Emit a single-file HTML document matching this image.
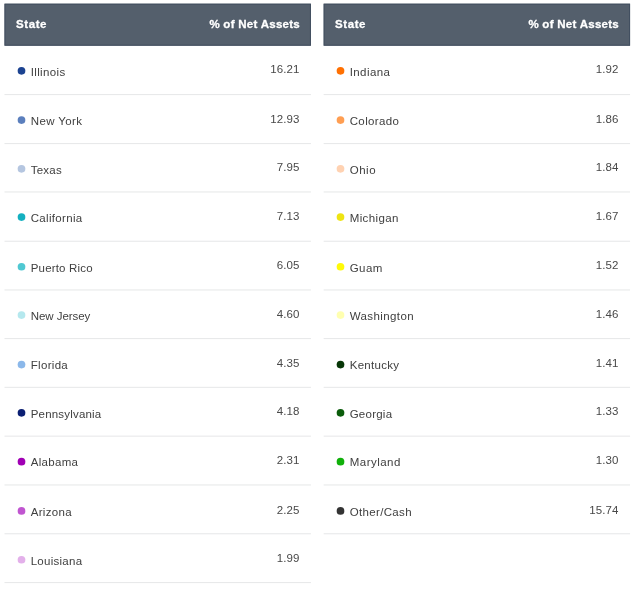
<!DOCTYPE html>
<html lang="en"><head><meta charset="utf-8"><title>State allocation</title>
<style>
html,body{margin:0;padding:0;background:#fff;}
body{width:640px;height:592px;overflow:hidden;position:relative;font-family:"Liberation Sans",sans-serif;}
svg.bg{position:absolute;left:0;top:0;}
.tbl{position:absolute;top:0;height:592px;}
.th,.n,.v{position:absolute;white-space:nowrap;line-height:14px;height:14px;}
.th{color:#fff;font-weight:bold;font-size:11.5px;-webkit-text-stroke:0.3px #fff;}
.n{color:#404040;font-size:11.5px;left:26.2px;}
.v{color:#484848;font-size:11.5px;right:11.25px;letter-spacing:0.15px;}
</style></head><body>
<svg class="bg" width="640" height="592" viewBox="0 0 640 592">
<rect x="4.5" y="3.7" width="306.42" height="42.0" fill="#545f6c"/>
<rect x="5.00" y="4.20" width="305.42" height="41.00" fill="none" stroke="#424f60" stroke-width="1"/>
<rect x="4.5" y="94.00" width="306.42" height="1.1" fill="#e8e9ea"/><circle cx="21.50" cy="70.83" r="3.85" fill="#1c4391"/>
<rect x="4.5" y="143.00" width="306.42" height="1.1" fill="#e8e9ea"/><circle cx="21.50" cy="120.06" r="3.85" fill="#5b7fbd"/>
<rect x="4.5" y="191.40" width="306.42" height="1.1" fill="#e8e9ea"/><circle cx="21.50" cy="168.83" r="3.85" fill="#b5c6e0"/>
<rect x="4.5" y="240.70" width="306.42" height="1.1" fill="#e8e9ea"/><circle cx="21.50" cy="217.10" r="3.85" fill="#14b0c0"/>
<rect x="4.5" y="289.40" width="306.42" height="1.1" fill="#e8e9ea"/><circle cx="21.50" cy="266.75" r="3.85" fill="#50c8d2"/>
<rect x="4.5" y="338.00" width="306.42" height="1.1" fill="#e8e9ea"/><circle cx="21.50" cy="315.05" r="3.85" fill="#b5e8ee"/>
<rect x="4.5" y="386.80" width="306.42" height="1.1" fill="#e8e9ea"/><circle cx="21.50" cy="364.60" r="3.85" fill="#8bb8ea"/>
<rect x="4.5" y="435.60" width="306.42" height="1.1" fill="#e8e9ea"/><circle cx="21.50" cy="412.83" r="3.85" fill="#0b1f73"/>
<rect x="4.5" y="484.40" width="306.42" height="1.1" fill="#e8e9ea"/><circle cx="21.50" cy="461.64" r="3.85" fill="#a000b4"/>
<rect x="4.5" y="533.20" width="306.42" height="1.1" fill="#e8e9ea"/><circle cx="21.50" cy="510.90" r="3.85" fill="#c055d0"/>
<rect x="4.5" y="582.00" width="306.42" height="1.1" fill="#e8e9ea"/><circle cx="21.50" cy="559.77" r="3.85" fill="#e3b0ea"/>
<rect x="323.65" y="3.7" width="306.42" height="42.0" fill="#545f6c"/>
<rect x="324.15" y="4.20" width="305.42" height="41.00" fill="none" stroke="#424f60" stroke-width="1"/>
<rect x="323.65" y="94.00" width="306.42" height="1.1" fill="#e8e9ea"/><circle cx="340.50" cy="70.83" r="3.85" fill="#ff7002"/>
<rect x="323.65" y="143.00" width="306.42" height="1.1" fill="#e8e9ea"/><circle cx="340.50" cy="120.06" r="3.85" fill="#ff9e52"/>
<rect x="323.65" y="191.40" width="306.42" height="1.1" fill="#e8e9ea"/><circle cx="340.50" cy="168.83" r="3.85" fill="#ffd2b2"/>
<rect x="323.65" y="240.70" width="306.42" height="1.1" fill="#e8e9ea"/><circle cx="340.50" cy="217.10" r="3.85" fill="#eee412"/>
<rect x="323.65" y="289.40" width="306.42" height="1.1" fill="#e8e9ea"/><circle cx="340.50" cy="266.75" r="3.85" fill="#fffa08"/>
<rect x="323.65" y="338.00" width="306.42" height="1.1" fill="#e8e9ea"/><circle cx="340.50" cy="315.05" r="3.85" fill="#ffffb0"/>
<rect x="323.65" y="386.80" width="306.42" height="1.1" fill="#e8e9ea"/><circle cx="340.50" cy="364.60" r="3.85" fill="#073607"/>
<rect x="323.65" y="435.60" width="306.42" height="1.1" fill="#e8e9ea"/><circle cx="340.50" cy="412.83" r="3.85" fill="#0a5c0a"/>
<rect x="323.65" y="484.40" width="306.42" height="1.1" fill="#e8e9ea"/><circle cx="340.50" cy="461.64" r="3.85" fill="#10b00a"/>
<rect x="323.65" y="533.20" width="306.42" height="1.1" fill="#e8e9ea"/><circle cx="340.50" cy="510.90" r="3.85" fill="#333333"/>
</svg>
<div class="tbl" style="left:4.5px;width:306.42px">
<div class="th" style="left:11.5px;top:17px;letter-spacing:0.587px">State</div><div class="th" style="right:10.9px;top:17px;letter-spacing:0.274px">% of Net Assets</div>
<div class="n" style="top:65px;letter-spacing:0.364px">Illinois</div><div class="v" style="top:62px">16.21</div>
<div class="n" style="top:114px;letter-spacing:0.390px">New York</div><div class="v" style="top:112px">12.93</div>
<div class="n" style="top:163px;letter-spacing:0.249px">Texas</div><div class="v" style="top:160px">7.95</div>
<div class="n" style="top:211px;letter-spacing:0.330px">California</div><div class="v" style="top:209px">7.13</div>
<div class="n" style="top:261px;letter-spacing:0.188px">Puerto Rico</div><div class="v" style="top:258px">6.05</div>
<div class="n" style="top:309px;letter-spacing:-0.051px">New Jersey</div><div class="v" style="top:307px">4.60</div>
<div class="n" style="top:358px;letter-spacing:0.321px">Florida</div><div class="v" style="top:356px">4.35</div>
<div class="n" style="top:407px;letter-spacing:0.192px">Pennsylvania</div><div class="v" style="top:404px">4.18</div>
<div class="n" style="top:455px;letter-spacing:0.320px">Alabama</div><div class="v" style="top:453px">2.31</div>
<div class="n" style="top:505px;letter-spacing:0.320px">Arizona</div><div class="v" style="top:503px">2.25</div>
<div class="n" style="top:554px;letter-spacing:0.273px">Louisiana</div><div class="v" style="top:551px">1.99</div>
</div>
<div class="tbl" style="left:323.5px;width:306.42px">
<div class="th" style="left:11.5px;top:17px;letter-spacing:0.587px">State</div><div class="th" style="right:10.9px;top:17px;letter-spacing:0.274px">% of Net Assets</div>
<div class="n" style="top:65px;letter-spacing:0.417px">Indiana</div><div class="v" style="top:62px">1.92</div>
<div class="n" style="top:114px;letter-spacing:0.370px">Colorado</div><div class="v" style="top:112px">1.86</div>
<div class="n" style="top:163px;letter-spacing:0.533px">Ohio</div><div class="v" style="top:160px">1.84</div>
<div class="n" style="top:211px;letter-spacing:0.372px">Michigan</div><div class="v" style="top:209px">1.67</div>
<div class="n" style="top:261px;letter-spacing:0.430px">Guam</div><div class="v" style="top:258px">1.52</div>
<div class="n" style="top:309px;letter-spacing:0.410px">Washington</div><div class="v" style="top:307px">1.46</div>
<div class="n" style="top:358px;letter-spacing:0.288px">Kentucky</div><div class="v" style="top:356px">1.41</div>
<div class="n" style="top:407px;letter-spacing:0.237px">Georgia</div><div class="v" style="top:404px">1.33</div>
<div class="n" style="top:455px;letter-spacing:0.483px">Maryland</div><div class="v" style="top:453px">1.30</div>
<div class="n" style="top:505px;letter-spacing:0.343px">Other/Cash</div><div class="v" style="top:503px">15.74</div>
</div>
</body></html>
